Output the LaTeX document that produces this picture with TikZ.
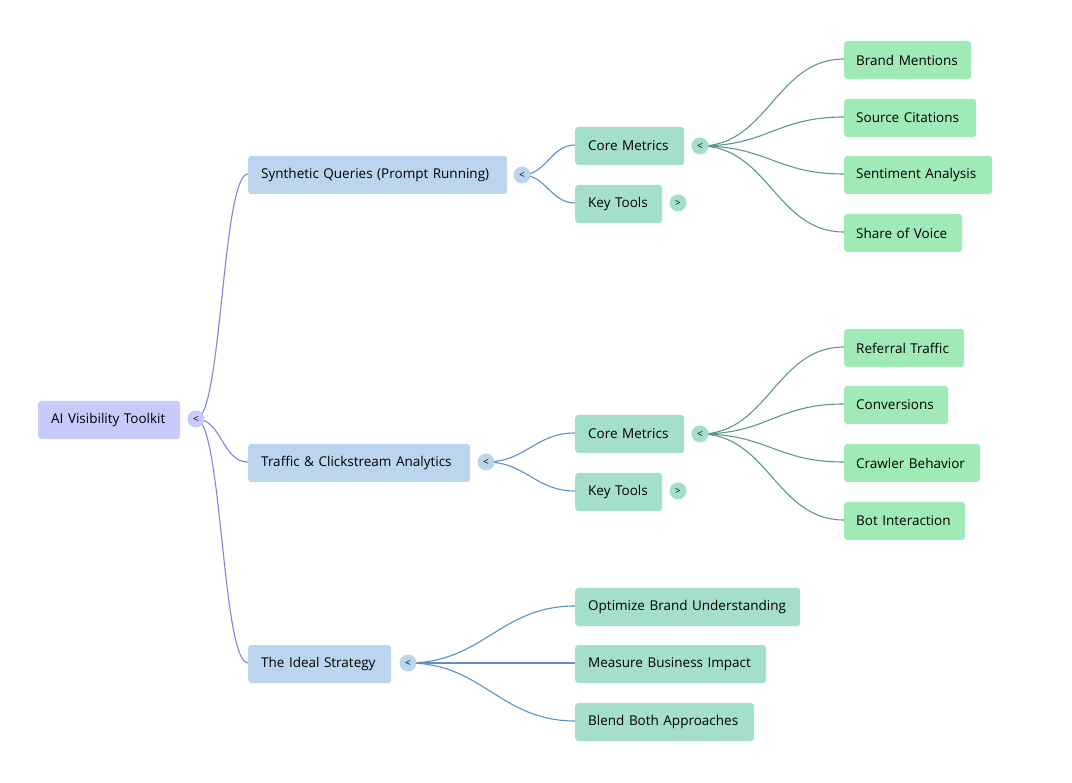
\documentclass[tikz,border=0pt]{standalone}
\usepackage{fontspec}
\setmainfont{Open Sans}
\begin{document}
\begin{tikzpicture}[x=1pt,y=-1pt,
  box/.style={rounded corners=3pt,minimum height=38pt,anchor=west,font=\fontsize{13.5}{16}\selectfont,text=black,align=left,yshift=-1pt},
  r/.style={box,fill=root},
  a/.style={box,fill=lone},
  b/.style={box,fill=ltwo},
  c/.style={box,fill=lthree},
  tg/.style={circle,inner sep=0pt,minimum size=17pt,font=\fontsize{10}{10}\selectfont},
  e/.style={line width=1.1pt}]
\definecolor{root}{HTML}{C7CAFA}\definecolor{rootE}{HTML}{7E86DE}
\definecolor{lone}{HTML}{BCD5EE}\definecolor{loneE}{HTML}{5D90C6}
\definecolor{ltwo}{HTML}{A3DFCC}\definecolor{ltwoE}{HTML}{5E9A80}
\definecolor{lthree}{HTML}{A0EAB8}
\useasboundingbox (0,0) rectangle (1072,783);
% edges first
\path (196,419) coordinate (t0) (522,175) coordinate (t1) (486,462) coordinate (t2) (408,663) coordinate (t3) (700,146) coordinate (tc1) (700,434) coordinate (tc2);
\path (248,174) coordinate (s) (248,462) coordinate (tr) (248,663) coordinate (id)
 (575,145) coordinate (cm1) (575,203) coordinate (kt1) (575,433) coordinate (cm2) (575,491) coordinate (kt2)
 (575,606) coordinate (o1) (575,663) coordinate (o2) (575,721) coordinate (o3);
\foreach \n/\y in {c1/59,c2/117,c3/174,c4/232,c5/347,c6/404,c7/462,c8/520} \path (844,\y) coordinate (\n);
\foreach \a/\b/\c/\d in {t0/s/rootE/26,t0/tr/rootE/26,t0/id/rootE/26,t1/cm1/loneE/24,t1/kt1/loneE/24,t2/cm2/loneE/40,t2/kt2/loneE/40,t3/o1/loneE/75,t3/o2/loneE/75,t3/o3/loneE/75,tc1/c1/ltwoE/68,tc1/c2/ltwoE/68,tc1/c3/ltwoE/68,tc1/c4/ltwoE/68,tc2/c5/ltwoE/68,tc2/c6/ltwoE/68,tc2/c7/ltwoE/68,tc2/c8/ltwoE/68}
  \draw[e,draw=\c] (\a) .. controls +(\d,0) and +(-\d,0) .. (\b);
% nodes
\node[r,minimum width=142pt,inner xsep=13pt,text width=116pt] at (38,419) {AI Visibility Toolkit};
\node[tg,fill=root] at (t0) {<};
\node[a,minimum width=259pt,inner xsep=13pt,text width=233pt] at (s) {Synthetic Queries (Prompt Running)};
\node[tg,fill=lone] at (t1) {<};
\node[a,minimum width=222pt,inner xsep=13pt,text width=196pt] at (tr) {Traffic \& Clickstream Analytics};
\node[tg,fill=lone] at (t2) {<};
\node[a,minimum width=143pt,inner xsep=13pt,text width=117pt] at (id) {The Ideal Strategy};
\node[tg,fill=lone] at (t3) {<};
\node[b,minimum width=109pt,inner xsep=13pt,text width=83pt] at (cm1) {Core Metrics};
\node[tg,fill=ltwo] at (tc1) {<};
\node[b,minimum width=87pt,inner xsep=13pt,text width=61pt] at (kt1) {Key Tools};
\node[tg,fill=ltwo] (k1) at (678,203) {>};
\node[b,minimum width=109pt,inner xsep=13pt,text width=83pt] at (cm2) {Core Metrics};
\node[tg,fill=ltwo] at (tc2) {<};
\node[b,minimum width=87pt,inner xsep=13pt,text width=61pt] at (kt2) {Key Tools};
\node[tg,fill=ltwo] (k2) at (678,491) {>};
\node[b,minimum width=225pt,inner xsep=13pt,text width=199pt] at (o1) {Optimize Brand Understanding};
\node[b,minimum width=191pt,inner xsep=13pt,text width=165pt] at (o2) {Measure Business Impact};
\node[b,minimum width=179pt,inner xsep=13pt,text width=153pt] at (o3) {Blend Both Approaches};
\foreach \n/\w/\t in {c1/127/Brand Mentions,c2/132/Source Citations,c3/148/Sentiment Analysis,c4/118/Share of Voice,c5/120/Referral Traffic,c6/104/Conversions,c7/136/Crawler Behavior,c8/121/Bot Interaction}
  \node[c,minimum width=\w pt,inner xsep=12pt,text width=\w pt-24pt] at (\n) {\t};
\end{tikzpicture}
\end{document}
